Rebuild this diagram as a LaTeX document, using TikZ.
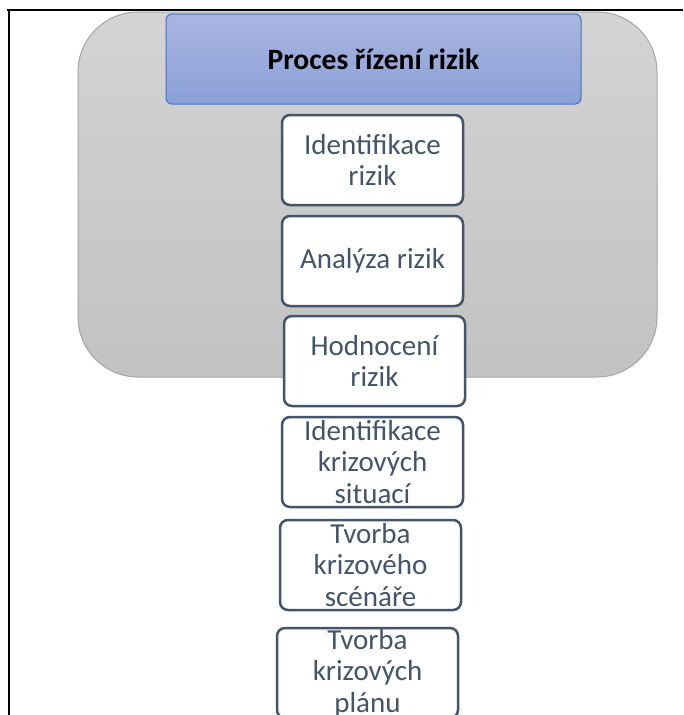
\documentclass[tikz,border=0pt]{standalone}
\usepackage{fontspec}
\setmainfont{Carlito}
\usepackage{tikz}
\definecolor{slate}{HTML}{44546A}
\definecolor{headline}{HTML}{4472C4}
\tikzset{
  backbox/.style={draw=black!35,line width=1pt,rounded corners=60pt,top color=black!17,bottom color=black!24},
  headbox/.style={draw=headline,line width=1pt,rounded corners=6pt,top color={rgb,255:red,169;green,182;blue,224},bottom color={rgb,255:red,138;green,160;blue,215},
    minimum width=415pt,minimum height=90pt,inner sep=0pt,font=\fontsize{29.5}{33}\selectfont\bfseries},
  stepbox/.style={draw=slate,line width=2.5pt,rounded corners=8pt,fill=white,text=slate,align=center,
    minimum width=181pt,minimum height=90pt,inner sep=0pt,font=\fontsize{29}{31.5}\selectfont}
}
\begin{document}
\begin{tikzpicture}[x=1pt,y=-1pt]
  \clip (0,0) rectangle (683,715);
  \fill[white] (0,0) rectangle (683,715);
  \draw[line width=1.5pt] (7,10) -- (683,10);
  \draw[line width=1.5pt] (9,10) -- (9,715);

  \draw[backbox] (78,12) rectangle (657,377);
  \node[headbox] (proces) at (373.5,59) {Proces řízení rizik};

  \node[stepbox] (identifikace) at (372.5,160) {Identifikace\\rizik};
  \node[stepbox] (analyza) at (372.5,261) {Analýza rizik};
  \node[stepbox] (hodnoceni) at (374.5,361) {Hodnocení\\rizik};
  \node[stepbox] (situace) at (372.5,462) {Identifikace\\krizových\\situací};
  \node[stepbox] (scenar) at (370.5,565) {Tvorba\\krizového\\scénáře};
  \node[stepbox] (plany) at (367.5,673) {Tvorba\\krizových\\plánu};
\end{tikzpicture}
\end{document}
